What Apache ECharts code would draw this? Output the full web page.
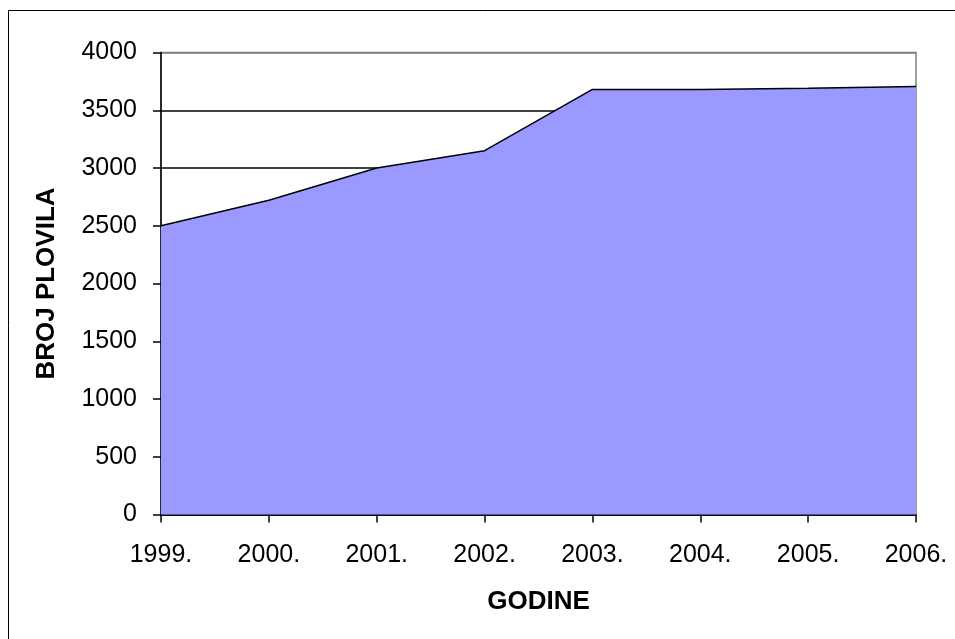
<!DOCTYPE html>
<html><head><meta charset="utf-8">
<script src="https://cdn.jsdelivr.net/npm/echarts@6/dist/echarts.min.js"></script>
<style>html,body{margin:0;padding:0;background:#fff}#c{width:955px;height:639px}</style>
</head><body><div id="c"></div>
<script>
const categories = ['1999.', '2000.', '2001.', '2002.', '2003.', '2004.', '2005.', '2006.'];
const values = [2500, 2720, 3000, 3150, 3680, 3680, 3690, 3705];
const yTicks = [0, 500, 1000, 1500, 2000, 2500, 3000, 3500, 4000];

const chart = echarts.init(document.getElementById('c'));
const font = '"Liberation Sans", Arial, sans-serif';
const gridColors = yTicks.map((v, i) => i === yTicks.length - 1 ? '#808080' : '#000');
chart.setOption({
  animation: false,
  backgroundColor: '#fff',
  graphic: [{
    type: 'rect', shape: {x: 8.5, y: 10.5, width: 1000, height: 700},
    style: {fill: 'none', stroke: '#000', lineWidth: 1}, z: 100
  }, {
    type: 'rect', shape: {x: 161, y: 52.5, width: 755, height: 462},
    style: {fill: 'none', stroke: '#808080', lineWidth: 1.5}, z: 0
  }],
  grid: {left: 161, right: 39, top: 52.5, bottom: 124.5, containLabel: false},
  xAxis: {
    type: 'category', data: categories, boundaryGap: false,
    name: 'GODINE', nameLocation: 'middle', nameGap: 74,
    nameTextStyle: {fontFamily: font, fontSize: 26, fontWeight: 'bold', color: '#000'},
    axisLine: {lineStyle: {color: '#000', width: 1.5}},
    axisTick: {show: true, length: 8, lineStyle: {color: '#000', width: 1.5}},
    axisLabel: {fontFamily: font, fontSize: 25, color: '#000', margin: 28, interval: 0},
    splitLine: {show: false}
  },
  yAxis: {
    type: 'value', min: 0, max: 4000, interval: 500,
    name: 'BROJ PLOVILA', nameLocation: 'middle', nameGap: 101, nameRotate: 90,
    nameTextStyle: {fontFamily: font, fontSize: 26, fontWeight: 'bold', color: '#000'},
    axisLine: {show: true, lineStyle: {color: '#000', width: 1.5}},
    axisTick: {show: true, length: 8, lineStyle: {color: '#000', width: 1.5}},
    axisLabel: {fontFamily: font, fontSize: 25, color: '#000', margin: 24,
      formatter: v => yTicks.includes(v) ? String(v) : ''},
    splitLine: {show: true, lineStyle: {color: gridColors, width: 1.5}}
  },
  series: [{
    type: 'line', data: values, symbol: 'none', z: 3,
    lineStyle: {color: '#000', width: 1.5},
    areaStyle: {color: '#9999ff', opacity: 1}
  }]
});
</script></body></html>
